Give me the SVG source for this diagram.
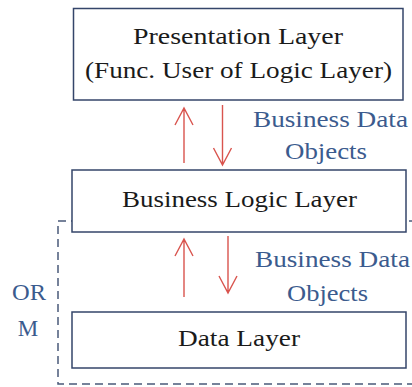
<svg xmlns="http://www.w3.org/2000/svg" width="412" height="387" viewBox="0 0 412 387">
  <style>
    .box { fill: #ffffff; stroke: #34456a; stroke-width: 1.5; }
    text { font-size: 23px; text-anchor: middle; }
    .lbl { fill: #1a1a1a; }
    .note { fill: #3b5b8e; }
    .flow { fill: none; stroke: #d9544e; stroke-width: 1.4; }
    .orm { fill: none; stroke: #4a5a7a; stroke-width: 1.5; stroke-dasharray: 8 5; }
  </style>
  <rect width="412" height="387" fill="#ffffff"/>

  <g font-family="Liberation Serif, DejaVu Serif, serif">
  <!-- ORM boundary (dashed, runs off the right edge) -->
  <g id="orm">
    <rect class="orm" x="58" y="221" width="370" height="163"/>
    <text class="note" x="29" y="300" textLength="34" lengthAdjust="spacingAndGlyphs">OR</text>
    <text class="note" x="28" y="336">M</text>
  </g>

  <g id="presentation">
    <rect class="box" x="73.5" y="8.5" width="329.5" height="91.5"/>
    <text class="lbl" x="238" y="44" textLength="210" lengthAdjust="spacingAndGlyphs">Presentation Layer</text>
    <text class="lbl" x="238.5" y="78" textLength="307" lengthAdjust="spacingAndGlyphs">(Func. User of Logic Layer)</text>
  </g>

  <g id="business">
    <rect class="box" x="72" y="170" width="334" height="62"/>
    <text class="lbl" x="239.5" y="207" textLength="235" lengthAdjust="spacingAndGlyphs">Business Logic Layer</text>
  </g>

  <g id="data">
    <rect class="box" x="72" y="312" width="334" height="56"/>
    <text class="lbl" x="239" y="346" textLength="122" lengthAdjust="spacingAndGlyphs">Data Layer</text>
  </g>

  <g id="connectors">
    <!-- presentation <-> business -->
    <path class="flow" d="M184 163 V108 M175 125 L184 108 L193 125"/>
    <path class="flow" d="M222.5 105 V165 M213.5 148 L222.5 165 L231.5 148"/>
    <text class="note" x="330.5" y="127" textLength="155" lengthAdjust="spacingAndGlyphs">Business Data</text>
    <text class="note" x="326" y="159" textLength="82" lengthAdjust="spacingAndGlyphs">Objects</text>
    <!-- business <-> data -->
    <path class="flow" d="M184 297 V239 M175 256 L184 239 L193 256"/>
    <path class="flow" d="M228 236 V293 M219 276 L228 293 L237 276"/>
    <text class="note" x="332.5" y="267" textLength="155" lengthAdjust="spacingAndGlyphs">Business Data</text>
    <text class="note" x="327.5" y="301" textLength="81" lengthAdjust="spacingAndGlyphs">Objects</text>
  </g>
  </g>
</svg>
